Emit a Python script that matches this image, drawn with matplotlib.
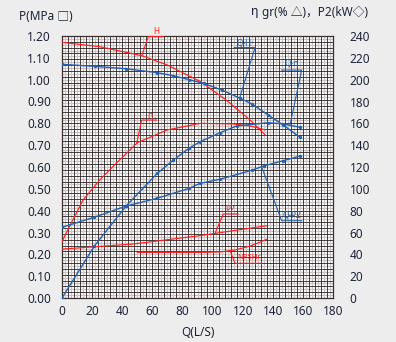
import numpy as np
import matplotlib
matplotlib.use("Agg")
import matplotlib.pyplot as plt

plt.rcParams['font.family'] = ['Noto Sans', 'Noto Sans CJK SC', 'DejaVu Sans']

# ---- pump performance data (Q in L/s, values on the MPa scale) ----
# red set
q_h_red = [0, 25, 53, 70, 92, 109, 125, 135]
p_h_red = [1.171, 1.151, 1.110, 1.067, 0.991, 0.907, 0.815, 0.747]

q_eta_red = [0, 6, 14, 25, 36, 50, 70, 92, 114, 125, 135]
p_eta_red = [0.258, 0.342, 0.449, 0.540, 0.617, 0.711, 0.770, 0.800, 0.797, 0.788, 0.770]

q_p2_red = [0, 47, 92, 136]
p_p2_red = [0.224, 0.247, 0.286, 0.331]

q_npsh_red = [50, 70, 92, 105, 115, 125, 133, 136]
p_npsh_red = [0.209, 0.209, 0.209, 0.211, 0.220, 0.238, 0.260, 0.269]

# blue set (with measurement points)
q_h_blue = [0, 22, 42.5, 63.3, 74, 84.4, 94, 106, 118, 126, 137, 147, 158]
p_h_blue = [1.070, 1.061, 1.050, 1.032, 1.018, 1.000, 0.983, 0.953, 0.916, 0.889, 0.838, 0.792, 0.736]

q_eta_blue = [0, 21.5, 42.5, 63.3, 74, 84.4, 91.7, 105, 116, 137, 147, 158]
p_eta_blue = [0.000, 0.238, 0.421, 0.571, 0.632, 0.686, 0.716, 0.757, 0.788, 0.803, 0.797, 0.782]

q_p2_blue = [0, 21.5, 42.5, 63.3, 84.4, 91.7, 105, 126, 134, 147, 158]
p_p2_blue = [0.324, 0.370, 0.421, 0.457, 0.502, 0.525, 0.544, 0.585, 0.605, 0.629, 0.650]

x_ticks = [0, 20, 40, 60, 80, 100, 120, 140, 160, 180]
left_ticks = [0.0, 0.1, 0.2, 0.3, 0.4, 0.5, 0.6, 0.7, 0.8, 0.9, 1.0, 1.1, 1.2]
right_ticks = [0, 20, 40, 60, 80, 100, 120, 140, 160, 180, 200, 220, 240]

RED = "#ff1f1f"
BLUE = "#2262b0"
TXT = "#1c2438"

fig = plt.figure(figsize=(3.96, 3.42), dpi=100)
fig.patch.set_facecolor("#ededed")

W, H = 396, 342
ax = fig.add_axes([62 / W, 1 - 298 / H, 271 / W, 262 / H])
ax.set_facecolor("white")
ax.set_xlim(0, 180)
ax.set_ylim(0, 1.2)

# dense chart-paper grid: dark lines with lighter lines between them
nx = 45
xs = np.linspace(0, 180, nx + 1)
ys = np.linspace(0, 1.2, nx + 1)
xm = (xs[:-1] + xs[1:]) / 2
ym = (ys[:-1] + ys[1:]) / 2
ax.vlines(xm, 0, 1.2, colors="#c9c3c3", linewidth=0.9, zorder=0.5)
ax.hlines(ym, 0, 180, colors="#c9c3c3", linewidth=0.9, zorder=0.5)
ax.vlines(xs, 0, 1.2, colors="#2a2020", linewidth=0.6, zorder=0.6)
ax.hlines(ys, 0, 180, colors="#2a2020", linewidth=0.6, zorder=0.6)

for s in ax.spines.values():
    s.set_color("#3a3030")
    s.set_linewidth(0.9)

# curves
lw_r, lw_b = 0.85, 1.0
ax.plot(q_h_red, p_h_red, color=RED, lw=lw_r, zorder=3)
ax.plot(q_eta_red, p_eta_red, color=RED, lw=lw_r, zorder=3)
ax.plot(q_p2_red, p_p2_red, color=RED, lw=lw_r, zorder=3)
ax.plot(q_npsh_red, p_npsh_red, color=RED, lw=lw_r, zorder=3)

mk = dict(marker="o", markersize=2.4, markeredgewidth=0)
ax.plot(q_h_blue, p_h_blue, color=BLUE, lw=lw_b, zorder=4, **mk)
ax.plot(q_eta_blue, p_eta_blue, color=BLUE, lw=lw_b, zorder=4, **mk)
ax.plot(q_p2_blue, p_p2_blue, color=BLUE, lw=lw_b, zorder=4, **mk)

# axes ticks
ax.set_xticks(x_ticks)
ax.set_xticklabels([str(v) for v in x_ticks])
ax.set_yticks(left_ticks)
ax.set_yticklabels([f"{v:.2f}" for v in left_ticks])
ax.tick_params(axis="both", length=0, labelsize=8.5, labelcolor=TXT)
ax.tick_params(axis="x", pad=5)
ax.tick_params(axis="y", pad=8)

ax2 = ax.twinx()
ax2.set_ylim(0, 240)
ax2.set_yticks(right_ticks)
ax2.set_yticklabels([str(v) for v in right_ticks])
ax2.tick_params(axis="y", length=0, labelsize=8.5, labelcolor=TXT, pad=12)
for s in ax2.spines.values():
    s.set_visible(False)

ax.set_xlabel("Q(L/S)", fontsize=8.5, color=TXT, labelpad=6)

fig.text(19 / W, 1 - 17 / H, "P(MPa □)", fontsize=8.5, color=TXT,
         ha="left", va="center")
fig.text(251 / W, 1 - 12 / H, "η", fontsize=9, fontweight="bold", color=TXT,
         ha="left", va="center")
fig.text(262 / W, 1 - 12 / H, "gr(% △)，P2(kW◇)", fontsize=8.5, color=TXT,
         ha="left", va="center")


def callout(qc, qs, ps, elbow, end, text_pos, label, color, fs=6):
    """Label with an underline and a leader line down to a curve point."""
    pc = np.interp(qc, qs, ps)
    ax.plot([qc, elbow[0], end[0]], [pc, elbow[1], end[1]], color=color,
            lw=0.8, zorder=5, clip_on=False)
    ax.text(text_pos[0], text_pos[1], label, color=color, fontsize=fs,
            ha="center", va="center", zorder=6, clip_on=False)


callout(53, q_h_red, p_h_red, (57.3, 1.197), (67.3, 1.197), (62.5, 1.222), "H", RED)
callout(49.6, q_eta_red, p_eta_red, (52.9, 0.815), (62.8, 0.815), (58.4, 0.838), "η", RED)
callout(101.6, q_p2_red, p_p2_red, (107.1, 0.385), (117.1, 0.385), (111.5, 0.405), "P2", RED)
callout(111.6, q_npsh_red, p_npsh_red, (114.9, 0.159), (132.8, 0.159), (124.5, 0.186), "NPSHr", RED, fs=5.5)

callout(118, q_h_blue, p_h_blue, (128.2, 1.147), (114.4, 1.147), (120.8, 1.168), "Q-H", BLUE)
callout(151.4, q_eta_blue, p_eta_blue, (159.2, 1.044), (145.9, 1.044), (152.6, 1.072), "Q-η", BLUE)
callout(132.6, q_p2_blue, p_p2_blue, (145.9, 0.354), (159.2, 0.354), (152.6, 0.378), "Q-P2", BLUE)

fig.savefig("out.png", dpi=100, facecolor=fig.get_facecolor())
